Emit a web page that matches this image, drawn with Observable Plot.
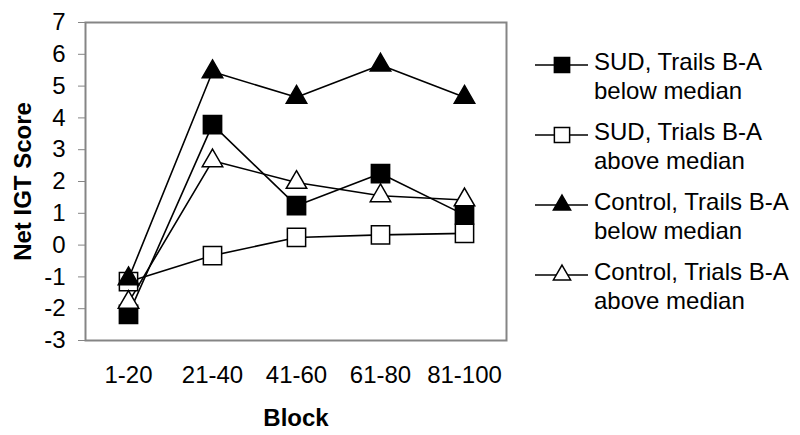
<!DOCTYPE html>
<html>
<head>
<meta charset="utf-8">
<script src="https://cdn.jsdelivr.net/npm/d3@7"></script>
<script src="https://cdn.jsdelivr.net/npm/@observablehq/plot@0.6"></script>
<style>
  html, body { margin: 0; padding: 0; background: white; }
  #wrap { position: relative; width: 800px; height: 435px; font-family: 'Liberation Sans', Arial, sans-serif; }
  #legend { position: absolute; left: 0; top: 0; pointer-events: none; }
</style>
</head>
<body>
<div id="wrap"></div>
<script>
const blocks = ["1-20", "21-40", "41-60", "61-80", "81-100"];
const seriesNames = [
  ["SUD, Trails B-A", "below median"],
  ["SUD, Trials B-A", "above median"],
  ["Control, Trails B-A", "below median"],
  ["Control, Trials B-A", "above median"]
];
const sudBelow  = [-2.18, 3.79, 1.24, 2.25, 0.95];
const sudAbove  = [-1.15, -0.33, 0.24, 0.32, 0.37];
const ctrlBelow = [-1.06, 5.45, 4.65, 5.66, 4.65];
const ctrlAbove = [-1.80, 2.65, 1.97, 1.55, 1.42];
const yTicks = [-3, -2, -1, 0, 1, 2, 3, 4, 5, 6, 7];

const seriesValues = [sudBelow, sudAbove, ctrlBelow, ctrlAbove];
const seriesSymbol = ["square", "square", "triangle", "triangle"];
const seriesFill = ["black", "white", "black", "white"];

const rows = [];
seriesValues.forEach((vals, s) => {
  vals.forEach((v, i) => rows.push({series: s, block: blocks[i], value: v}));
});

const dotMarks = seriesValues.map((vals, s) =>
  Plot.dot(rows.filter(d => d.series === s), {
    x: "block", y: "value",
    symbol: seriesSymbol[s],
    r: seriesSymbol[s] === "square" ? 10.3 : 7.6,
    fill: seriesFill[s], stroke: "black", strokeWidth: 1.5
  })
);

const plot = Plot.plot({
  width: 800, height: 435,
  marginLeft: 85, marginRight: 294, marginTop: 22, marginBottom: 95,
  style: {fontFamily: "'Liberation Sans', Arial, sans-serif", fontSize: "24px", background: "white", color: "black"},
  x: {type: "point", domain: blocks, padding: 0.5, label: null},
  y: {domain: [-3, 7], label: null},
  marks: [
    Plot.frame({stroke: "#858585", strokeWidth: 2}),
    Plot.axisY({ticks: yTicks, tickFormat: d => String(d), tickSize: 7, tickPadding: 13, stroke: "#858585", fill: "black", fontSize: 24, label: null}),
    Plot.axisX({tickSize: 0, tickPadding: 25, fill: "black", fontSize: 24, label: null}),
    Plot.line(rows, {x: "block", y: "value", z: "series", stroke: "black", strokeWidth: 1.6}),
    ...dotMarks,
    Plot.text(["Net IGT Score"], {text: d => d, frameAnchor: "left", rotate: -90, dx: -62, textAnchor: "middle", lineAnchor: "middle", fontWeight: "bold", fontSize: 24, fill: "black"}),
    Plot.text(["Block"], {text: d => d, frameAnchor: "bottom", dy: 78, textAnchor: "middle", lineAnchor: "middle", fontWeight: "bold", fontSize: 24, fill: "black"})
  ]
});

const wrap = document.getElementById("wrap");
wrap.appendChild(plot);

// Legend
const legend = d3.select(wrap).append("svg")
  .attr("id", "legend").attr("width", 800).attr("height", 435)
  .style("font-family", "'Liberation Sans', Arial, sans-serif");
const rowY = [65, 135, 205, 275];
seriesNames.forEach((lines, s) => {
  const g = legend.append("g").attr("transform", `translate(0,${rowY[s]})`);
  g.append("line").attr("x1", 535).attr("x2", 588).attr("y1", 0).attr("y2", 0)
    .attr("stroke", "black").attr("stroke-width", 1.6);
  const isSq = seriesSymbol[s] === "square";
  const r = isSq ? 8.6 : 6.4;
  g.append("path")
    .attr("transform", "translate(562,0)")
    .attr("d", d3.symbol(isSq ? d3.symbolSquare : d3.symbolTriangle, r * r * Math.PI)())
    .attr("fill", seriesFill[s]).attr("stroke", "black").attr("stroke-width", 1.5);
  lines.forEach((t, k) => {
    g.append("text").attr("x", 594).attr("y", 4.5 + k * 29)
      .attr("font-size", 24).attr("fill", "black").text(t);
  });
});
</script>
</body>
</html>
